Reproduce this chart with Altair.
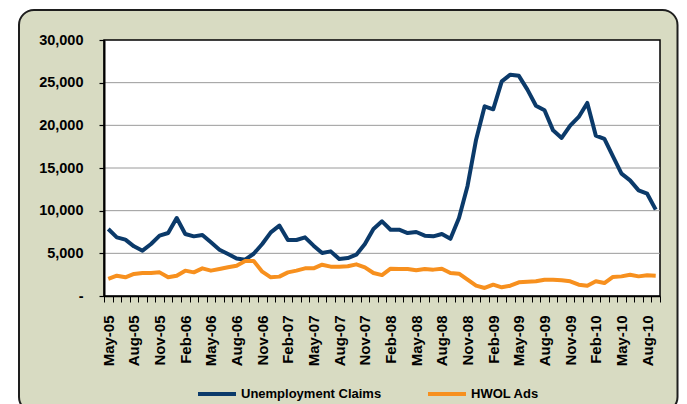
import altair as alt
import pandas as pd

# ---- data ----
months = pd.date_range("2005-05-01", periods=65, freq="MS").strftime("%b-%y").tolist()

claims = [7850, 6875, 6600, 5820, 5310, 6090, 7070, 7380, 9140, 7270,
          6990, 7150, 6290, 5430, 4920, 4400, 4260, 4950, 6090, 7460,
          8250, 6560, 6560, 6870, 5900, 5040, 5230, 4340, 4450, 4840,
          6090, 7850, 8750, 7770, 7770, 7380, 7500, 7070, 6990, 7270,
          6700, 9140, 12900, 18320, 22230, 21880, 25160, 25940, 25800, 24180,
          22300, 21760, 19410, 18520, 19960, 20980, 22620, 18790, 18400, 16370,
          14340, 13550, 12380, 11990, 10120]

ads = [2000, 2380, 2190, 2580, 2700, 2700, 2770, 2190, 2380, 2970,
       2770, 3240, 2970, 3160, 3360, 3550, 4100, 4100, 2850, 2190,
       2270, 2770, 2970, 3240, 3240, 3670, 3440, 3440, 3480, 3710,
       3360, 2700, 2450, 3200, 3160, 3160, 3010, 3160, 3090, 3200,
       2700, 2620, 1910, 1210, 940, 1330, 1020, 1210, 1600, 1680,
       1720, 1910, 1910, 1840, 1720, 1330, 1210, 1720, 1520, 2230,
       2300, 2500, 2300, 2420, 2380]

series_names = ["Unemployment Claims", "HWOL Ads"]
y_ticks = [0, 5000, 10000, 15000, 20000, 25000, 30000]
grid_vals = [5000, 10000, 15000, 20000, 25000]

# ---- styling ----
BLUE = "#0b3a6a"
ORANGE = "#f7901e"
BEIGE = "#d8dbc2"
FONT = "Liberation Sans, Arial, sans-serif"
W, H = 556, 256
PAD_L, PAD_T, PAD_R, PAD_B = 96, 32, 19, 116
N = len(months)

df = pd.DataFrame({
    "idx": list(range(N)) * 2,
    "month": months * 2,
    "series": [series_names[0]] * N + [series_names[1]] * N,
    "value": claims + ads,
})

label_arr = "[" + ",".join("'" + m + "'" for m in months) + "]"
x_label_expr = ("(datum.value % 3 == 0 && datum.value < " + str(N) + ") ? "
                + label_arr + "[datum.value] : ''")
y_label_expr = ("datum.value == 0 ? '-\u00a0\u00a0\u00a0\u00a0\u00a0' "
                ": format(datum.value, ',')")

xscale = alt.Scale(domain=[0, N], nice=False, zero=False)
yscale = alt.Scale(domain=[0, 30000], nice=False)

x_axis = alt.Axis(
    values=list(range(N + 1)), labelExpr=x_label_expr, labelOffset=W / N / 2,
    labelAngle=270, labelAlign="right", labelBaseline="middle",
    labelFont=FONT, labelFontSize=15,
    labelFontWeight="bold", labelColor="#000", labelPadding=13,
    labelOverlap=False, labelFlush=False,
    tickSize=6, tickColor="#000", tickWidth=1,
    domainColor="#000", domainWidth=1.5, grid=False, title=None, zindex=1,
)
y_axis = alt.Axis(
    values=y_ticks, labelExpr=y_label_expr,
    labelFont=FONT, labelFontSize=14.5, labelFontWeight="bold", labelColor="#000",
    labelPadding=16, tickSize=5, tickColor="#000", tickWidth=1.2,
    domainColor="#000", domainWidth=2, grid=False, title=None, zindex=1,
)

color = alt.Color(
    "series:N",
    scale=alt.Scale(domain=series_names, range=[BLUE, ORANGE]),
    legend=alt.Legend(
        orient="none", legendX=92, legendY=333, direction="horizontal",
        title=None, symbolType="stroke", symbolSize=1444, symbolStrokeWidth=4,
        labelFont=FONT, labelFontSize=13, labelFontWeight="bold",
        labelColor="#000", labelOffset=3, columnPadding=38, padding=0,
        labelLimit=400,
    ),
)

one = alt.Data(values=[{"k": 0}])

frame = alt.Chart(one).mark_rect(
    fill=BEIGE, stroke="#1e1e1e", strokeWidth=2, cornerRadius=15
).encode(x=alt.value(-85), x2=alt.value(W + PAD_R - 1.5),
         y=alt.value(-30), y2=alt.value(372))

plot_bg = alt.Chart(one).mark_rect(
    fill="white", stroke="#000", strokeWidth=1.5
).encode(x=alt.value(0), x2=alt.value(W), y=alt.value(0), y2=alt.value(H))

grid = alt.Chart(pd.DataFrame({"g": grid_vals})).mark_rule(
    color="#9a9a9a", strokeWidth=1
).encode(y=alt.Y("g:Q", scale=yscale, axis=y_axis))

base = alt.Chart(df).transform_calculate(xpos="datum.idx + 0.5")

line_blue = base.transform_filter(alt.datum.series == series_names[0]).mark_line(
    strokeWidth=4, strokeJoin="round", strokeCap="butt"
).encode(
    x=alt.X("xpos:Q", scale=xscale, axis=x_axis),
    y=alt.Y("value:Q", scale=yscale, axis=y_axis),
    color=color,
)

line_orange = base.transform_filter(alt.datum.series == series_names[1]).mark_line(
    strokeWidth=4, strokeJoin="round", strokeCap="butt"
).encode(
    x=alt.X("xpos:Q", scale=xscale, axis=x_axis),
    y=alt.Y("value:Q", scale=yscale, axis=y_axis),
    color=color,
)

chart = alt.layer(frame, plot_bg, grid, line_blue, line_orange).properties(
    width=W, height=H,
    autosize=alt.AutoSizeParams(type="none"),
    padding={"left": PAD_L, "top": PAD_T, "right": PAD_R, "bottom": PAD_B},
).configure(background="white").configure_view(strokeWidth=0)

chart.save("out.html", embed_options={"renderer": "svg", "actions": False})
